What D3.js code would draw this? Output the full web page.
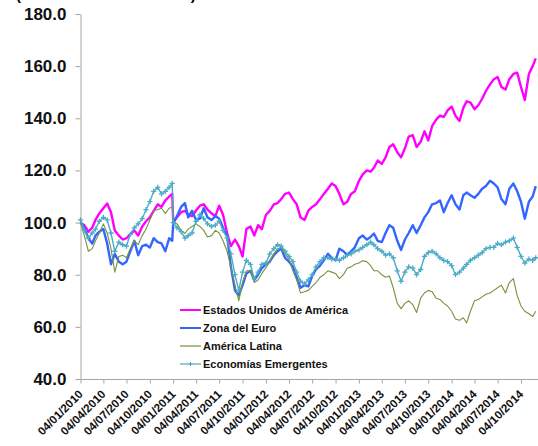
<!DOCTYPE html>
<html>
<head>
<meta charset="utf-8">
<script src="https://cdn.jsdelivr.net/npm/d3@7"></script>
<style>
html,body{margin:0;padding:0;background:#fff;}
svg{display:block;font-family:"Liberation Sans",Arial,sans-serif;}
</style>
</head>
<body>
<script>
// ---------- DATA ----------
const dates = [
"2010-01-04","2010-01-19","2010-02-04","2010-02-19","2010-03-04","2010-03-19","2010-04-04","2010-04-19","2010-05-04","2010-05-19","2010-06-04","2010-06-19",
"2010-07-04","2010-07-19","2010-08-04","2010-08-19","2010-09-04","2010-09-19","2010-10-04","2010-10-19","2010-11-04","2010-11-19","2010-12-04","2010-12-19","2010-12-31",
"2011-01-04","2011-01-19","2011-02-04","2011-02-19","2011-03-04","2011-03-19","2011-04-04","2011-04-19","2011-05-04","2011-05-19","2011-06-04","2011-06-19",
"2011-07-04","2011-07-19","2011-08-04","2011-08-19","2011-09-04","2011-09-19","2011-10-04","2011-10-19","2011-11-04","2011-11-19","2011-12-04","2011-12-19",
"2012-01-04","2012-01-19","2012-02-04","2012-02-19","2012-03-04","2012-03-19","2012-04-04","2012-04-19","2012-05-04","2012-05-19","2012-06-04","2012-06-19",
"2012-07-04","2012-07-19","2012-08-04","2012-08-19","2012-09-04","2012-09-19","2012-10-04","2012-10-19","2012-11-04","2012-11-19","2012-12-04","2012-12-19",
"2013-01-04","2013-01-19","2013-02-04","2013-02-19","2013-03-04","2013-03-19","2013-04-04","2013-04-19","2013-05-04","2013-05-19","2013-06-04","2013-06-19",
"2013-07-04","2013-07-19","2013-08-04","2013-08-19","2013-09-04","2013-09-19","2013-10-04","2013-10-19","2013-11-04","2013-11-19","2013-12-04","2013-12-19",
"2014-01-04","2014-01-19","2014-02-04","2014-02-19","2014-03-04","2014-03-19","2014-04-04","2014-04-19","2014-05-04","2014-05-19","2014-06-04","2014-06-19",
"2014-07-04","2014-07-19","2014-08-04","2014-08-19","2014-09-04","2014-09-19","2014-10-04","2014-10-19","2014-11-04","2014-11-19","2014-12-01"
];

const usa = [
100, 99, 96.5, 98, 101, 103.5, 105.5, 107.3, 104, 97, 95, 93.5, 94, 95.5, 97, 95, 98.5, 100.5, 102, 104.5, 107, 106, 108.5, 110, 111,
100, 102, 104, 104.5, 103, 102.5, 104.6, 106.5, 107, 105, 103.5, 102.5, 106.5, 103, 96, 91, 93.5, 91, 87, 97.5, 98.5, 95, 99, 97.5,
103, 104.5, 107, 107.5, 109, 111, 111.5, 109, 107, 102, 101, 104.6, 106, 107, 109, 111, 113, 115, 114, 111, 107, 108, 111, 112,
116, 118.5, 120, 119.5, 121, 123.8, 122.5, 125, 129, 130, 127, 125, 128.5, 133, 133.5, 129, 131, 135, 131.5, 137, 139.5, 141, 140.5, 143,
144.5, 141, 139, 144, 146.5, 146, 143.5, 145, 147.5, 150.5, 153, 155, 155.8, 152, 151, 155,
157, 157.5, 152, 147, 157, 160, 163
];

const euro = [
100, 98, 94, 92, 95, 96.5, 97.5, 92, 84, 88, 85, 84, 85, 89, 93, 87.5, 91, 91.5, 90.4, 94, 92.5, 92, 89, 94, 93,
100, 102.5, 106, 107.5, 102, 104.5, 101, 101.5, 105.5, 102, 101, 102.5, 101.5, 98, 95, 83, 74, 72, 76, 80.5, 81.5, 78, 80, 82.5,
84, 85, 87.5, 89, 90, 86.5, 85, 83, 79, 75, 76, 75.5, 79.5, 82, 83.5, 85.5, 88, 86.5, 85.5, 90, 89, 87.5, 89, 90.5,
94, 95, 93.5, 94.5, 95.8, 93, 92.5, 96, 99, 98, 93, 89.5, 93.5, 96, 99, 96, 99, 102, 104, 107, 107.5, 108.5, 104, 107.5,
110.5, 107, 105, 110.5, 111.5, 110.5, 109.5, 111, 113, 114, 116, 115, 113.5, 109, 107, 113,
115, 112, 108, 101.5, 108, 110, 114
];

const latam = [
100, 95, 89, 90, 93, 96, 99.5, 96, 90, 81, 87, 87.5, 86.5, 90, 93, 91.5, 95, 97.5, 101, 104.5, 105, 105.5, 103.5, 105.5, 106,
100, 99.5, 97, 95.8, 97.5, 98.5, 99.5, 98.5, 97, 94.5, 95, 97, 96, 93, 89, 83, 76, 70, 77, 81.5, 81.5, 77, 78, 80.5,
82.7, 85, 88, 90, 90.5, 88, 86, 81.5, 78, 73, 73.5, 74, 75.5, 77, 79, 80, 81.5, 81, 80.5, 78.5, 80, 82.5, 83, 84,
84.5, 85.4, 85, 83.5, 81.5, 81.5, 80, 79, 79.5, 75, 69, 67, 69, 70, 68.5, 65.5, 71, 73, 74, 73.5, 71, 70.5, 69, 68,
66, 63, 62.5, 63.5, 61.5, 66, 70, 70.5, 71.5, 72.5, 73, 74, 75, 76, 73, 77,
78.5, 72, 68, 66, 65, 64, 66
];

const emerg = [
101, 97, 94, 96, 97.5, 100.5, 102, 101, 96, 89, 92.5, 91.5, 91, 95.5, 98, 99.5, 101.5, 105, 108, 112, 113.5, 111, 112, 113.5, 115,
100, 98, 96.5, 94, 95, 96, 100.5, 103, 101.5, 99.5, 98.5, 99, 100.5, 97, 94, 88, 80, 74, 81, 85.5, 84, 78.5, 81, 84,
84.5, 88, 90, 91.5, 91, 89, 87, 85, 81, 77.5, 76.5, 78, 80, 83, 85, 86.5, 86.5, 86, 86, 85.5, 86.5, 87.5, 88, 89,
89.5, 90.5, 91.5, 92.5, 91.5, 90, 89, 87.5, 88, 86.5, 81.5, 77.5, 81, 83, 82.5, 80, 82, 87, 88.5, 89, 88, 86.5, 85.5, 85,
83.5, 80, 81, 82.5, 84, 85.5, 86.5, 87.5, 88.5, 90, 90.5, 90.5, 92, 91.5, 92.5, 93,
94, 90.5, 87, 84.5, 86, 85.5, 86.5
];

const seriesNames = ["Estados Unidos de América", "Zona del Euro", "América Latina", "Economías Emergentes"];
const seriesColors = ["#FF00FF", "#3366FF", "#77933C", "#4BACC6"];
const yTicks = [40, 60, 80, 100, 120, 140, 160, 180];
const xTickLabels = [
"04/01/2010","04/04/2010","04/07/2010","04/10/2010","04/01/2011","04/04/2011","04/07/2011","04/10/2011",
"04/01/2012","04/04/2012","04/07/2012","04/10/2012","04/01/2013","04/04/2013","04/07/2013","04/10/2013",
"04/01/2014","04/04/2014","04/07/2014","04/10/2014"
];
const titleText = "(Índice: 04/01/2010 = 100)";

// ---------- CHART ----------
const W = 538, H = 446;
const parse = d3.timeParse("%Y-%m-%d");
const parseTick = d3.timeParse("%d/%m/%Y");
const dts = dates.map(parse);
const allSeries = [usa, euro, latam, emerg];

const svg = d3.select("body").append("svg").attr("width", W).attr("height", H);

const x = d3.scaleTime()
  .domain([parseTick("04/01/2010"), parseTick("04/10/2014")])
  .range([80.5, 521]);
const y = d3.scaleLinear().domain([40, 180]).range([379, 14]);

// title (mostly cut off at top, as in the reference)
svg.append("text").attr("x", 16).attr("y", 0)
  .attr("font-size", 15).attr("font-weight", "bold").attr("fill", "#000")
  .text(titleText);

// Y axis
const yAxis = d3.axisLeft(y).tickValues(yTicks).tickSize(5).tickSizeOuter(0)
  .tickPadding(9).tickFormat(d3.format(".1f"));
const gy = svg.append("g").attr("transform", "translate(80.5,0)").call(yAxis);
gy.select(".domain").attr("stroke", "#A6A6A6");
gy.selectAll(".tick line").attr("stroke", "#A6A6A6");
gy.selectAll(".tick text").attr("font-size", 17).attr("font-weight", "bold")
  .attr("fill", "#111").attr("font-family", "Liberation Sans, Arial, sans-serif");

// X axis
const axisY = 379.5;
const xAxis = d3.axisBottom(x).tickValues(xTickLabels.map(parseTick)).tickSize(4).tickSizeOuter(0)
  .tickFormat((d, i) => xTickLabels[i]);
const gx = svg.append("g").attr("transform", `translate(0,${axisY})`).call(xAxis);
gx.select(".domain").remove();
gx.selectAll(".tick line").attr("stroke", "#A6A6A6");
gx.selectAll(".tick text")
  .attr("x", 0).attr("y", 0).attr("dy", 0)
  .attr("transform", "translate(2.5,15.5) rotate(-45)")
  .style("text-anchor", "end")
  .attr("font-size", 11.6).attr("font-weight", "bold").attr("fill", "#111")
  .attr("font-family", "Liberation Sans, Arial, sans-serif");
svg.append("line").attr("x1", 80.5).attr("x2", W).attr("y1", axisY).attr("y2", axisY)
  .attr("stroke", "#A6A6A6");

// Lines
const widths = [2.4, 2.4, 1.1, 1.4];
const line = d3.line().x((d, i) => x(dts[i])).y(d => y(d));
allSeries.forEach((s, si) => {
  svg.append("path").datum(s).attr("fill", "none")
    .attr("stroke", seriesColors[si]).attr("stroke-width", widths[si])
    .attr("stroke-linejoin", "round").attr("d", line);
});
// markers for emerging
const mk = 2.6;
svg.append("g").selectAll("path").data(emerg).join("path")
  .attr("d", (d, i) => {
    const cx = x(dts[i]), cy = y(d);
    return `M${cx - mk},${cy}H${cx + mk}M${cx},${cy - mk}V${cy + mk}`;
  })
  .attr("stroke", seriesColors[3]).attr("stroke-width", 1.3);

// Legend
const lg = svg.append("g");
const ly0 = 310, ldy = 18;
seriesNames.forEach((n, i) => {
  const yy = ly0 + i * ldy;
  lg.append("line").attr("x1", 180).attr("x2", 201).attr("y1", yy).attr("y2", yy)
    .attr("stroke", seriesColors[i]).attr("stroke-width", i < 2 ? 2 : 1.2);
  if (i === 3) {
    lg.append("path").attr("d", `M${190.5 - 2},${yy}H${190.5 + 2}M190.5,${yy - 2}V${yy + 2}`)
      .attr("stroke", seriesColors[i]).attr("stroke-width", 1);
  }
  lg.append("text").attr("x", 203).attr("y", yy).attr("dy", "0.36em")
    .attr("font-size", 11).attr("font-weight", "bold").attr("fill", "#111")
    .text(n);
});
</script>
</body>
</html>
